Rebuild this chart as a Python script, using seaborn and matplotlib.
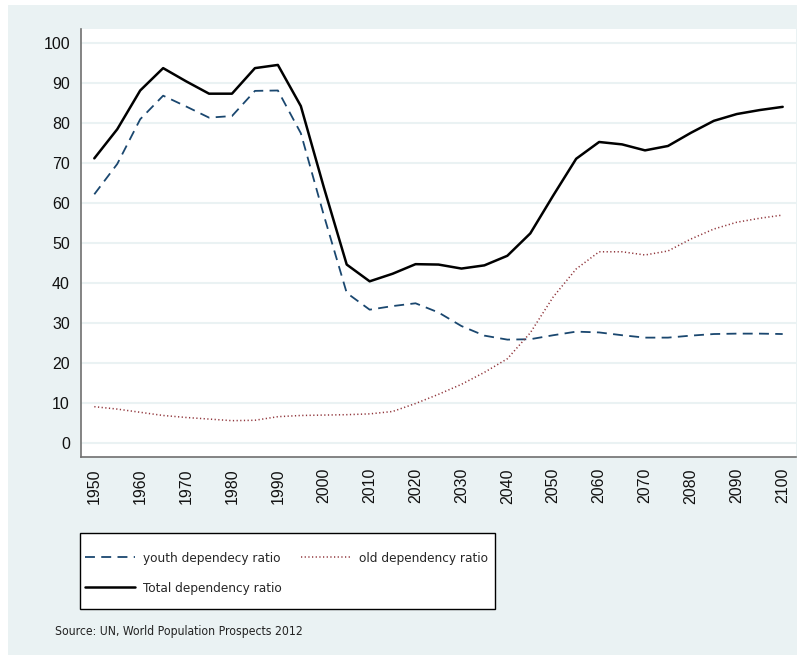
import pandas as pd
import matplotlib.pyplot as plt
import matplotlib.patches as mpatches
import seaborn as sns

# values (5-year steps)
years = list(range(1950, 2101, 5))
youth = [62.2, 69.8, 81.0, 86.9, 84.2, 81.4, 81.8, 88.1, 88.2, 77.5, 57.0,
         37.5, 33.3, 34.2, 34.9, 32.6, 29.2, 26.8, 25.8, 25.9, 26.9, 27.8,
         27.6, 26.9, 26.3, 26.3, 26.8, 27.2, 27.3, 27.3, 27.2]
old = [9.0, 8.4, 7.6, 6.8, 6.3, 5.9, 5.5, 5.6, 6.5, 6.8, 6.9,
       7.0, 7.2, 7.8, 9.8, 12.1, 14.6, 17.6, 21.0, 27.5, 36.5, 43.5,
       47.8, 47.8, 47.0, 48.0, 51.0, 53.5, 55.2, 56.2, 57.0]
total = [71.2, 78.5, 88.2, 93.8, 90.5, 87.4, 87.4, 93.8, 94.6, 84.3, 64.0,
         44.6, 40.4, 42.3, 44.7, 44.6, 43.6, 44.4, 46.8, 52.4, 61.9, 71.1,
         75.3, 74.7, 73.2, 74.3, 77.6, 80.6, 82.3, 83.3, 84.1]
xticks = list(range(1950, 2101, 10))
yticks = list(range(0, 101, 10))

df = pd.DataFrame({"year": years, "youth": youth, "old": old, "total": total})

sns.set_style("white")
plt.rcParams['font.family'] = ['Liberation Sans', 'DejaVu Sans']

W, H = 797, 663
bg = "#eaf2f3"
fig = plt.figure(figsize=(W / 100, H / 100), dpi=100, facecolor="white")
# stata-style light background panel
fig.patches.append(mpatches.Rectangle((8/W, 1 - 655/H), 789/W, 650/H,
                                      transform=fig.transFigure, facecolor=bg,
                                      edgecolor="none", zorder=-10))
ax = fig.add_axes([81/W, 1 - 457/H, 715/W, 428/H])
ax.set_facecolor("white")

sns.lineplot(data=df, x="year", y="youth", ax=ax, color="#1a476f",
             linestyle=(0, (5.5, 3.5)), linewidth=1.3, label="youth dependecy ratio")
sns.lineplot(data=df, x="year", y="total", ax=ax, color="black",
             linewidth=1.8, label="Total dependency ratio")
sns.lineplot(data=df, x="year", y="old", ax=ax, color="#90353b",
             linestyle=(0, (0.8, 1.6)), linewidth=1.1, label="old dependency ratio")

ax.set_xlim(1947.1, 2102.9)
ax.set_ylim(-3.6, 103.6)
ax.set_xticks(xticks)
ax.set_yticks(yticks)
ax.set_xticklabels([str(t) for t in xticks], rotation=90)
ax.set_xlabel("")
ax.set_ylabel("")
ax.grid(axis="y", color=bg, linewidth=1.5)
ax.set_axisbelow(True)
for s in ["top", "right"]:
    ax.spines[s].set_visible(False)
for s in ["left", "bottom"]:
    ax.spines[s].set_color("#707070")
    ax.spines[s].set_linewidth(1.2)
ax.tick_params(axis="both", direction="out", length=5, width=1,
               color="#707070", labelsize=11.5, labelcolor="#111111", pad=3)

# legend box drawn separately so the padding matches
fig.patches.append(mpatches.Rectangle((80/W, 1 - 609/H), 415/W, 76/H,
                                      transform=fig.transFigure, facecolor="white",
                                      edgecolor="black", linewidth=1.0, zorder=1))
handles, labels = ax.get_legend_handles_labels()
ax.get_legend().remove()
narrow = {"family": "DejaVu Sans", "stretch": "condensed", "size": 9.7}
leg = fig.legend(handles, labels,
                 loc="center left", bbox_to_anchor=(85/W, 1 - 573.5/H),
                 ncol=2, frameon=False, borderaxespad=0, borderpad=0,
                 handlelength=3.7, handletextpad=0.6, columnspacing=1.45,
                 labelspacing=1.25, prop=narrow)
leg.set_zorder(2)

fig.text(55/W, 1 - 631/H, "Source: UN, World Population Prospects 2012",
         family="DejaVu Sans", stretch="condensed", fontsize=8.7,
         va="center", ha="left", color="#222222")

fig.savefig("out.png", dpi=100, facecolor="white")
